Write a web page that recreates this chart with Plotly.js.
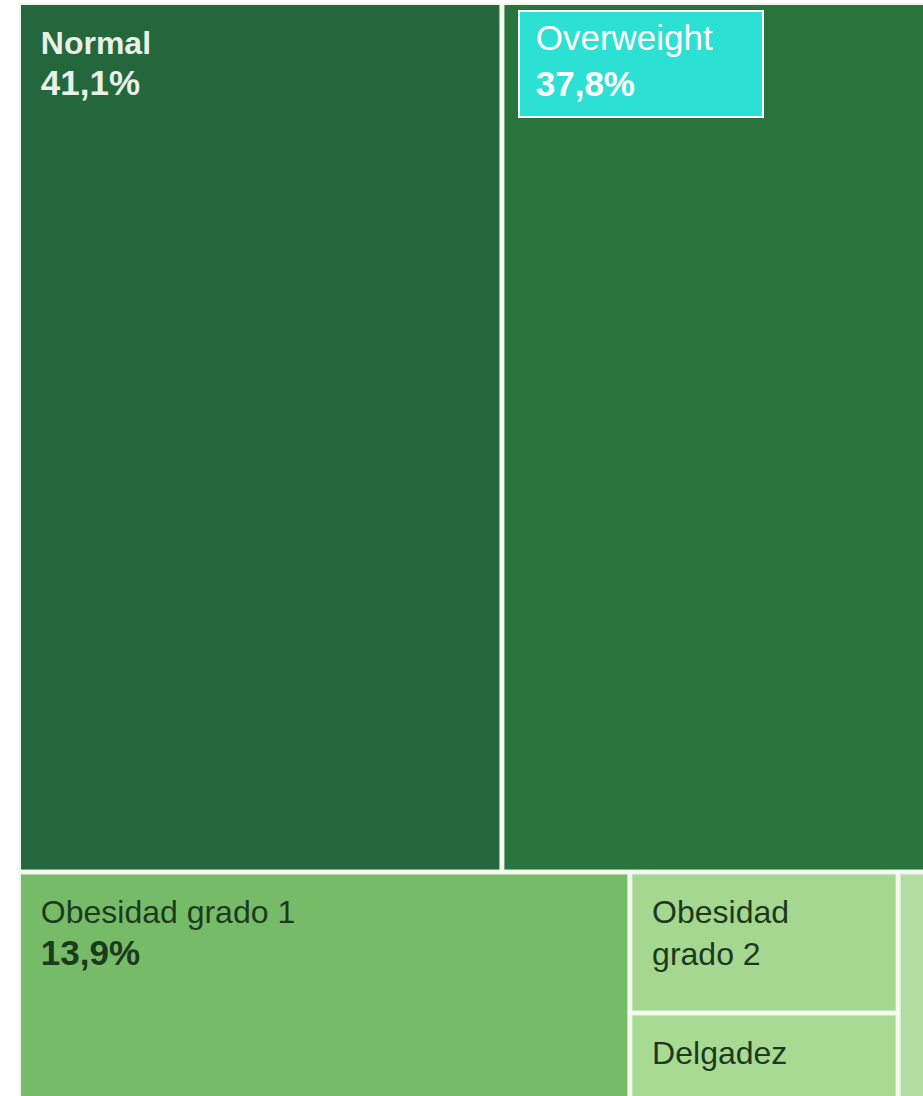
<!DOCTYPE html>
<html><head><meta charset="utf-8">
<script src="https://cdn.plot.ly/plotly-3.0.1.min.js"></script>
<style>html,body{margin:0;padding:0;overflow:hidden;background:#fff}#chart{width:945px;height:1103px}</style>
</head><body><div id="chart"></div>
<script>
const categories = ['Normal', 'Overweight', 'Obesidad grado 1', 'Obesidad grado 2', 'Delgadez', 'Obesidad grado 3'];
const shares = [41.1, 37.8, 13.9, 3.7, 2.4, 1.1];
const tileText = ['Normal', 'Overweight', 'Obesidad grado 1', 'Obesidad<br>grado 2', 'Delgadez', ''];
const showShare = [true, true, true, false, false, false];

const colors = ['#24673d', '#28743c', '#76bc68', '#a4d78f', '#a8da94', '#b3dca3'];
const textColors = ['#e8f0e8', '#ffffff', '#1c3a1e', '#1c3a1e', '#1c3a1e', '#1c3a1e'];
const boldLabel = [true, false, false, false, false, false];
const inAnnotation = [false, true, false, false, false, true];

// text layout helpers (spacing only)
const IND = '&nbsp;&nbsp;';
const TOPGAP = '<span style="font-size:5px">&nbsp;</span><br>';
const templates = tileText.map((t, i) => {
  if (inAnnotation[i] || !t) return ' ';
  let lines = t.split('<br>').map(l => IND + (boldLabel[i] ? '<b>' + l + '</b>' : l));
  if (showShare[i]) lines.push(IND + '<b><span style="font-size:35px">%{value:.1f}%</span></b>');
  return TOPGAP + lines.join('<br>');
});

const trace = {
  type: 'treemap',
  labels: categories,
  parents: categories.map(() => ''),
  values: shares,
  text: tileText,
  texttemplate: templates,
  textposition: 'top left',
  textfont: {family: 'Liberation Sans, Arial, sans-serif', size: 32, color: textColors},
  marker: {colors: colors, line: {color: '#eef7ea', width: 2}, pad: {t: 0, l: 0, r: 0, b: 0}},
  pathbar: {visible: false},
  tiling: {packing: 'squarify', squarifyratio: 1.618},
  sort: true,
  hoverinfo: 'label+value'
};

const layout = {
  width: 945, height: 1103,
  margin: {l: 20, r: 0, t: 4, b: 0},
  paper_bgcolor: '#ffffff',
  separators: ',.',
  showlegend: false,
  annotations: [{
    xref: 'paper', yref: 'paper', x: 0.5384, y: 0.9945, xanchor: 'left', yanchor: 'top',
    text: '&nbsp;' + categories[1] + '<br>&nbsp;<b>' + shares[1].toFixed(1).replace('.', ',') + '%</b>',
    align: 'left', valign: 'top',
    font: {family: 'Liberation Sans, Arial, sans-serif', size: 35, color: '#ffffff'},
    bgcolor: '#2de0d4', bordercolor: '#ffffff', borderwidth: 2, borderpad: 6,
    width: 230, height: 92, showarrow: false
  }]
};

Plotly.newPlot('chart', [trace], layout, {displayModeBar: false, staticPlot: true});
</script></body></html>
